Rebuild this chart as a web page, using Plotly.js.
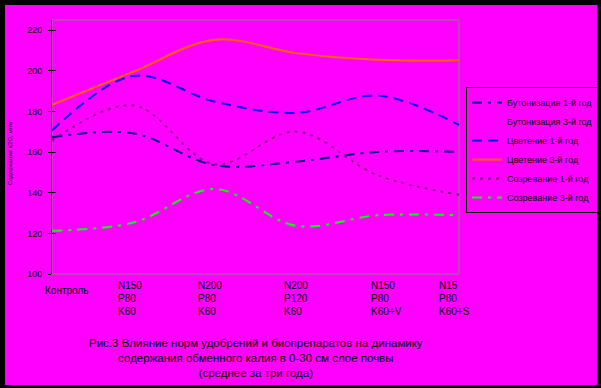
<!DOCTYPE html>
<html>
<head>
<meta charset="utf-8">
<script src="https://cdn.plot.ly/plotly-3.0.1.min.js"></script>
<style>
  html, body { margin: 0; padding: 0; background: #000000; width: 601px; height: 388px; overflow: hidden; }
  #chart { position: absolute; left: 5px; top: 5px; width: 592px; height: 380px; }
</style>
</head>
<body>
<div id="chart"></div>
<script>
// ---- data ----
const categories = ["Контроль", "N150<br>P80<br>K60", "N200<br>P80<br>K60", "N200<br>P120<br>K60", "N150<br>P80<br>K60+V", "N15<br>P80<br>K60+S"];
const seriesNames = ["Бутонизация 1-й год", "Бутонизация 3-й год", "Цветение 1-й год", "Цветение 3-й год", "Созревание 1-й год", "Созревание 3-й год"];
const budding1 = [167.3, 169.2, 153.5, 155.3, 160.1, 160.1];
const budding3 = [null, null, null, null, null, null]; // line not visible in the picture
const flowering1 = [170.6, 197.5, 184.8, 179.3, 187.8, 173.4];
const flowering3 = [183.3, 199.6, 215.3, 208.7, 205.4, 205.2];
const ripening1 = [165.7, 183.0, 154.0, 170.1, 148.6, 139.0];
const ripening3 = [121.3, 125.3, 141.8, 123.7, 128.9, 128.9];
const yTicks = [100, 120, 140, 160, 180, 200, 220];
const yTitle = "Содержание К2О, мг/кг";
const caption = "Рис.3 Влияние норм удобрений и биопрепаратов на динамику<br>содержания обменного калия в 0-30 см слое почвы<br>(среднее за три года)";

// ---- styles ----
const BG = "#FF00FF";
const FONT = "Liberation Sans, Arial, sans-serif";
const styles = [
  {color: "#000080", dash: "10px,6px,3px,6px", width: 2},
  {color: BG, dash: "solid", width: 2},
  {color: "#0000FF", dash: "10px,6px", width: 2},
  {color: "#FF6600", dash: "solid", width: 2},
  {color: "#800080", dash: "3px,5px", width: 2},
  {color: "#00FF00", dash: "10px,6px,3px,6px", width: 2}
];
const allSeries = [budding1, budding3, flowering1, flowering3, ripening1, ripening3];
const labelShift = [-9, -17, -19, -14, -9, -22];
const labelDy = [-9, -4, -4, -4, -4, -4];

const traces = allSeries.map((vals, i) => ({
  type: "scatter",
  mode: "lines",
  name: seriesNames[i],
  x: categories,
  y: vals,
  connectgaps: false,
  line: {color: styles[i].color, dash: styles[i].dash, width: styles[i].width, shape: "spline", smoothing: 1}
}));
// helper trace for inner tick marks on y
traces.push({type: "scatter", mode: "lines", x: categories, y: flowering3, yaxis: "y2", showlegend: false, hoverinfo: "skip", line: {width: 0, color: "rgba(0,0,0,0)"}});

const annotations = categories.map((c, i) => ({
  xref: "x", yref: "paper", x: c, y: 0, yanchor: "top", xanchor: "left", align: "left",
  xshift: labelShift[i], yshift: labelDy[i], showarrow: false,
  text: c, font: {family: FONT, size: 10, color: "#000000"}
}));
annotations.push({
  xref: "paper", yref: "paper", x: 0.5, y: -0.331, xanchor: "center", yanchor: "middle",
  showarrow: false, text: caption, align: "center",
  font: {family: FONT, size: 11.5, color: "#000000"}
});
annotations.push({
  xref: "paper", yref: "paper", x: -0.103, y: 0.476, xanchor: "center", yanchor: "middle",
  showarrow: false, text: yTitle, textangle: -90,
  font: {family: FONT, size: 6, color: "#000000"}
});

const layout = {
  width: 592, height: 380,
  margin: {l: 47, r: 138, t: 15, b: 111, pad: 0, autoexpand: false},
  paper_bgcolor: BG, plot_bgcolor: BG,
  font: {family: FONT, color: "#000000"},
  showlegend: true,
  legend: {
    x: 1.0172, xanchor: "left", y: 0.736, yanchor: "top",
    bgcolor: BG, bordercolor: "#000000", borderwidth: 1,
    font: {family: FONT, size: 9, color: "#000000"},
    itemwidth: 30, traceorder: "normal"
  },
  xaxis: {
    type: "category", range: [0, 5], showgrid: false, zeroline: false,
    showline: false, ticks: "", showticklabels: false, fixedrange: true
  },
  yaxis: {
    range: [100, 225], tickvals: yTicks, ticktext: yTicks.map(String),
    showgrid: false, zeroline: false, showline: true, linecolor: "#000000", linewidth: 1,
    ticks: "outside", ticklen: 3, tickcolor: "#000000", tickwidth: 1,
    tickfont: {family: FONT, size: 9, color: "#000000"}, ticklabelstandoff: 4
  },
  yaxis2: {
    overlaying: "y", side: "left", range: [100, 225], tickvals: yTicks,
    showgrid: false, zeroline: false, showline: false, showticklabels: false,
    ticks: "inside", ticklen: 4, tickcolor: "#000000", tickwidth: 1
  },
  shapes: [{
    type: "rect", xref: "paper", yref: "paper", x0: 0, x1: 1, y0: 0, y1: 1,
    line: {color: "#808080", width: 1}, layer: "below"
  }],
  annotations: annotations
};

Plotly.newPlot("chart", traces, layout, {staticPlot: true, displayModeBar: false});
</script>
</body>
</html>
